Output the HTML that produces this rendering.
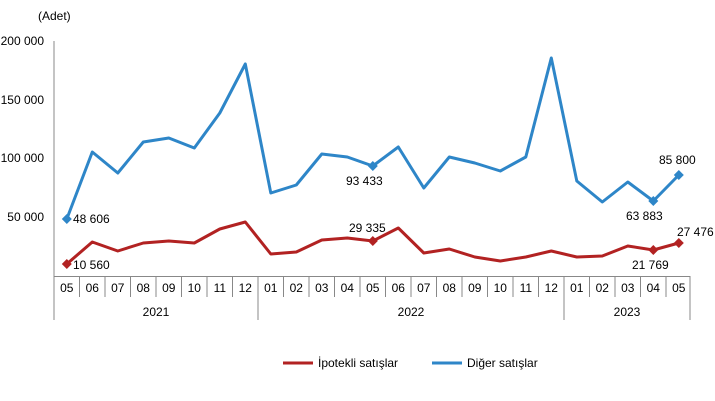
<!DOCTYPE html>
<html><head><meta charset="utf-8"><style>
html,body{margin:0;padding:0;background:#fff;}
svg{display:block;font-family:"Liberation Sans",Arial,sans-serif;}
</style></head><body>
<svg width="715" height="401" viewBox="0 0 715 401" xmlns="http://www.w3.org/2000/svg">
<text x="38" y="20" font-size="12" fill="#000">(Adet)</text>
<g font-size="12" fill="#000" text-anchor="end">
<text x="44" y="45">200 000</text>
<text x="44" y="104">150 000</text>
<text x="44" y="162">100 000</text>
<text x="44" y="221">50 000</text>
</g>
<g stroke="#888" stroke-width="1" fill="none">
<line x1="54" y1="41" x2="54" y2="320"/>
<line x1="54" y1="276.5" x2="690" y2="276.5"/>
<line x1="258" y1="276" x2="258" y2="320"/>
<line x1="564" y1="276" x2="564" y2="320"/>
<line x1="690" y1="276" x2="690" y2="320"/>
<path d="M79.5 276V297M105 276V297M130.5 276V297M156 276V297M181.5 276V297M207 276V297M232.5 276V297M283.5 276V297M309 276V297M334.5 276V297M360 276V297M385.5 276V297M411 276V297M436.5 276V297M462 276V297M487.5 276V297M513 276V297M538.5 276V297M589.5 276V297M615 276V297M640.5 276V297M666 276V297"/>
</g>
<g font-size="12" fill="#000" text-anchor="middle">
<text x="66.8" y="292">05</text><text x="92.3" y="292">06</text><text x="117.8" y="292">07</text><text x="143.3" y="292">08</text><text x="168.8" y="292">09</text><text x="194.3" y="292">10</text><text x="219.8" y="292">11</text><text x="245.3" y="292">12</text>
<text x="270.8" y="292">01</text><text x="296.3" y="292">02</text><text x="321.8" y="292">03</text><text x="347.3" y="292">04</text><text x="372.8" y="292">05</text><text x="398.3" y="292">06</text><text x="423.8" y="292">07</text><text x="449.3" y="292">08</text><text x="474.8" y="292">09</text><text x="500.3" y="292">10</text><text x="525.8" y="292">11</text><text x="551.3" y="292">12</text>
<text x="576.8" y="292">01</text><text x="602.3" y="292">02</text><text x="627.8" y="292">03</text><text x="653.3" y="292">04</text><text x="678.8" y="292">05</text>
<text x="156" y="316">2021</text><text x="411" y="316">2022</text><text x="627" y="316">2023</text>
</g>
<polyline fill="none" stroke="#2E86C8" stroke-width="3" stroke-linejoin="round" points="66.8,219 92.3,152 117.8,173 143.3,142 168.8,138 194.3,148 219.8,113 245.3,64 270.8,193 296.3,185 321.8,154 347.3,157 372.8,166 398.3,147 423.8,188 449.3,157 474.8,163 500.3,171 525.8,157 551.3,58 576.8,181 602.3,202 627.8,182 653.3,201 678.8,175"/>
<polyline fill="none" stroke="#B22222" stroke-width="3" stroke-linejoin="round" points="66.8,264 92.3,242 117.8,251 143.3,243 168.8,241 194.3,243 219.8,229 245.3,222 270.8,254 296.3,252 321.8,240 347.3,238 372.8,241 398.3,228 423.8,253 449.3,249 474.8,257 500.3,261 525.8,257 551.3,251 576.8,257 602.3,256 627.8,246 653.3,250 678.8,243"/>
<g fill="#2E86C8">
<path d="M66.8 214l5 5-5 5-5-5z"/><path d="M372.8 161l5 5-5 5-5-5z"/><path d="M653.3 196l5 5-5 5-5-5z"/><path d="M678.8 170l5 5-5 5-5-5z"/>
</g>
<g fill="#B22222">
<path d="M66.8 259l5 5-5 5-5-5z"/><path d="M372.8 236l5 5-5 5-5-5z"/><path d="M653.3 245l5 5-5 5-5-5z"/><path d="M678.8 238l5 5-5 5-5-5z"/>
</g>
<g font-size="12" fill="#000">
<text x="73" y="223">48 606</text>
<text x="73" y="269">10 560</text>
<text x="346" y="185">93 433</text>
<text x="349" y="232">29 335</text>
<text x="626" y="220">63 883</text>
<text x="632" y="269">21 769</text>
<text x="659" y="164">85 800</text>
<text x="677" y="236">27 476</text>
</g>
<line x1="283" y1="363" x2="313" y2="363" stroke="#B22222" stroke-width="3"/>
<text x="318" y="367" font-size="12">İpotekli satışlar</text>
<line x1="432" y1="363" x2="462" y2="363" stroke="#2E86C8" stroke-width="3"/>
<text x="467" y="367" font-size="12">Diğer satışlar</text>
</svg>
</body></html>
